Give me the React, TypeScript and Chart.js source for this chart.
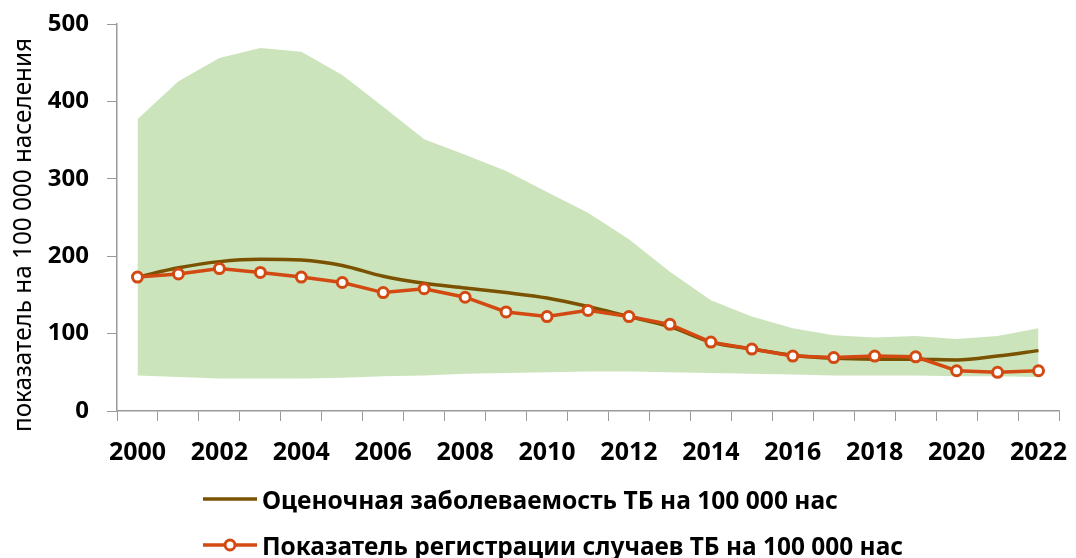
import React, { useEffect, useRef } from "react";
import { Chart, registerables } from "chart.js";

Chart.register(...registerables);

const years = ["2000","2001","2002","2003","2004","2005","2006","2007","2008","2009","2010","2011","2012","2013","2014","2015","2016","2017","2018","2019","2020","2021","2022"];
const estimated = [173,185,193,196,195,188,174,165,159,153,146,135,122,109,89,80,72,68,67,67,66,71,78];
const notified = [173,177,184,179,173,166,153,158,147,128,122,130,122,112,89,80,71,69,71,70,52,50,52];
const upperBound = [377,426,456,469,464,434,393,351,331,310,283,256,222,180,143,122,107,98,95,97,93,97,107];
const lowerBound = [46,44,42,42,42,43,45,46,48,49,50,51,51,50,49,48,47,46,46,46,45,45,44];
const yTicks = [0,100,200,300,400,500];

const legendLabels = ["Оценочная заболеваемость ТБ на 100 000 нас", "Показатель регистрации случаев ТБ на 100 000 нас"];
const yTitle = "показатель на 100 000 населения";

const BROWN = "#7a5200";
const ORANGE = "#d24a12";
const GREEN = "#cce4bb";
const AXIS = "#999999";

function measure(text: string, font: string): number {
  const c = document.createElement("canvas");
  const ctx = c.getContext("2d")!;
  ctx.font = font;
  return ctx.measureText(text).width;
}

function FitText(props: { text: string; font: string; width: number; style?: React.CSSProperties }) {
  const w = measure(props.text, props.font);
  const s = props.width / w;
  return (
    <span
      style={{
        font: props.font,
        whiteSpace: "nowrap",
        display: "inline-block",
        transform: `scaleX(${s})`,
        transformOrigin: "left center",
        ...props.style,
      }}
    >
      {props.text}
    </span>
  );
}

export default function App() {
  const ref = useRef<HTMLCanvasElement | null>(null);

  useEffect(() => {
    document.body.style.margin = "0";
    const canvas = ref.current!;
    const chart = new Chart(canvas, {
      type: "line",
      data: {
        labels: years,
        datasets: [
          {
            label: legendLabels[1],
            data: notified,
            borderColor: ORANGE,
            backgroundColor: "#ffffff",
            borderWidth: 3.5,
            pointRadius: 5,
            pointBorderWidth: 3,
            pointBackgroundColor: "#ffffff",
            pointBorderColor: ORANGE,
            tension: 0,
            fill: false,
          },
          {
            label: legendLabels[0],
            data: estimated,
            borderColor: BROWN,
            borderWidth: 3.5,
            pointRadius: 0,
            tension: 0.4,
            cubicInterpolationMode: "monotone",
            fill: false,
          },
          {
            label: "upper",
            data: upperBound,
            borderWidth: 0,
            borderColor: "rgba(0,0,0,0)",
            backgroundColor: GREEN,
            pointRadius: 0,
            tension: 0,
            fill: "+1",
          },
          {
            label: "lower",
            data: lowerBound,
            borderWidth: 0,
            borderColor: "rgba(0,0,0,0)",
            backgroundColor: GREEN,
            pointRadius: 0,
            tension: 0,
            fill: false,
          },
        ],
      },
      options: {
        responsive: false,
        animation: false,
        layout: { padding: { top: 24, bottom: 87, left: 0, right: 17 } },
        plugins: {
          legend: { display: false },
          tooltip: { enabled: false },
          title: { display: false },
        },
        scales: {
          x: {
            type: "category",
            offset: true,
            grid: {
              offset: true,
              drawOnChartArea: false,
              drawTicks: true,
              tickLength: 10,
              color: AXIS,
            },
            border: { color: AXIS, width: 1.5 },
            ticks: {
              autoSkip: false,
              maxRotation: 0,
              padding: 17,
              color: "#000000",
              font: { family: "Noto Sans", size: 25, weight: "bold" },
              callback: (_v: any, i: number) => (i % 2 === 0 ? years[i] : ""),
            },
            afterFit: (scale: any) => {
              scale.height = 60;
              scale.paddingLeft = 0;
              scale.paddingRight = 0;
            },
          },
          y: {
            min: 0,
            max: 500,
            afterBuildTicks: (scale: any) => {
              scale.ticks = yTicks.map((v) => ({ value: v }));
            },
            grid: {
              drawOnChartArea: false,
              drawTicks: true,
              tickLength: 10,
              color: AXIS,
            },
            border: { color: AXIS, width: 1.5 },
            ticks: {
              padding: 18,
              color: "#000000",
              font: { family: "Noto Sans", size: 24, weight: "bold" },
            },
            afterFit: (scale: any) => {
              scale.width = 117;
              scale.paddingTop = 0;
              scale.paddingBottom = 0;
            },
          },
        },
      },
    });
    return () => chart.destroy();
  }, []);

  const legendFont = "bold 25px 'Noto Sans'";
  const titleFont = "25px 'Noto Sans'";

  return (
    <div style={{ position: "absolute", left: 0, top: 0, width: 1076, height: 558, background: "#fff", overflow: "hidden" }}>
      <canvas ref={ref} width={1076} height={558} style={{ display: "block" }} />
      {/* Y axis title */}
      <div
        style={{
          position: "absolute",
          left: 21 - 200,
          top: 235 - 18,
          width: 400,
          height: 36,
          transform: "rotate(-90deg)",
          transformOrigin: "center center",
          display: "flex",
          alignItems: "center",
        }}
      >
        <div style={{ position: "absolute", left: 3, top: 0, height: 36, display: "flex", alignItems: "center" }}>
          <FitText text={yTitle} font={titleFont} width={394} />
        </div>
      </div>
      {/* Legend */}
      {legendLabels.map((lab, i) => {
        const cy = i === 0 ? 499 : 545;
        return (
          <div key={i} style={{ position: "absolute", left: 200, top: cy - 20, height: 40, width: 800 }}>
            <svg width={62} height={40} style={{ position: "absolute", left: 0, top: 0 }}>
              <line x1={3} y1={20} x2={57} y2={20} stroke={i === 0 ? BROWN : ORANGE} strokeWidth={3.5} />
              {i === 1 && <circle cx={30} cy={20} r={5} fill="#ffffff" stroke={ORANGE} strokeWidth={3} />}
            </svg>
            <div style={{ position: "absolute", left: 62, top: 0, height: 40, display: "flex", alignItems: "center" }}>
              <FitText text={lab} font={legendFont} width={i === 0 ? 576 : 641} />
            </div>
          </div>
        );
      })}
    </div>
  );
}
